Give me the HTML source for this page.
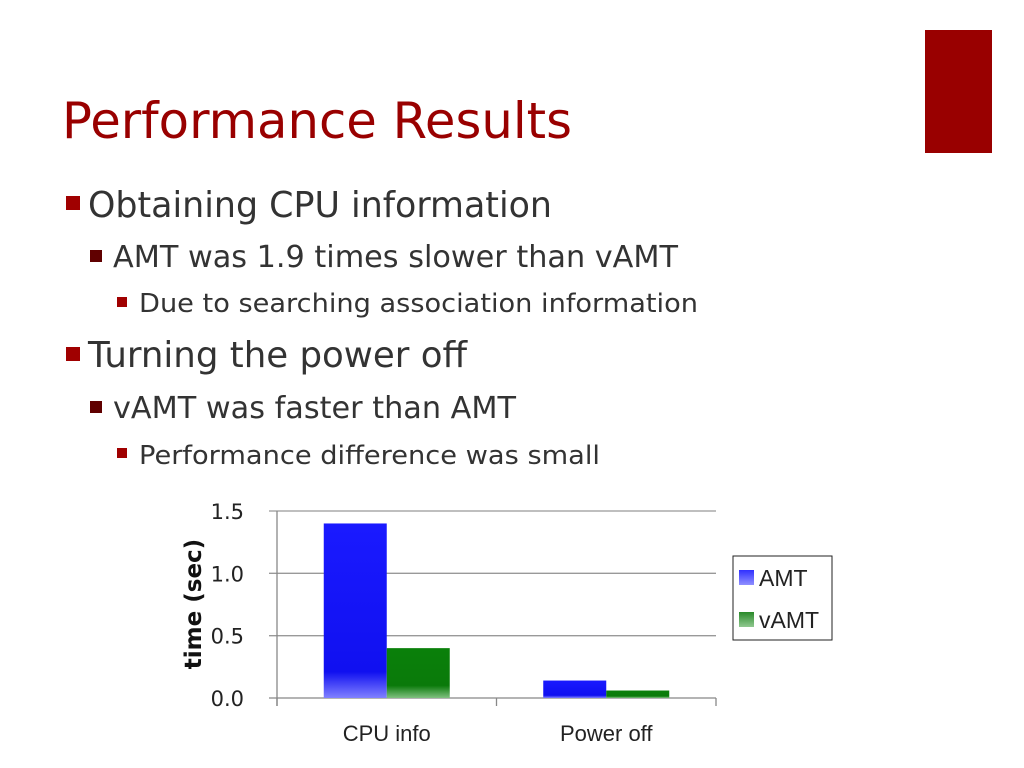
<!DOCTYPE html>
<html><head><meta charset="utf-8"><style>
body{margin:0;background:#fff;}
svg{display:block;font-family:"DejaVu Sans","Liberation Sans",sans-serif;}
</style></head><body>
<svg id="s" width="1024" height="768" viewBox="0 0 1024 768">
<defs>
<linearGradient id="gb" x1="0" y1="0" x2="0" y2="1"><stop offset="0" stop-color="#1a1aff"/><stop offset="0.85" stop-color="#1010f0"/><stop offset="1" stop-color="#8080ff"/></linearGradient>
<linearGradient id="gg" x1="0" y1="0" x2="0" y2="1"><stop offset="0" stop-color="#0a800a"/><stop offset="0.75" stop-color="#0a7a0a"/><stop offset="1" stop-color="#80c080"/></linearGradient>
<linearGradient id="gbl" x1="0" y1="0" x2="0" y2="1"><stop offset="0" stop-color="#3030ff"/><stop offset="1" stop-color="#9090ff"/></linearGradient>
<linearGradient id="ggl" x1="0" y1="0" x2="0" y2="1"><stop offset="0" stop-color="#2a8a2a"/><stop offset="1" stop-color="#90c890"/></linearGradient>
</defs>
<rect x="925" y="30" width="67" height="123" fill="#990000"/>
<text x="62" y="138" font-size="50" fill="#990000" textLength="510" lengthAdjust="spacingAndGlyphs">Performance Results</text>
<g fill="#333">
<rect x="66" y="196" width="14" height="14" fill="#a00000"/>
<text x="88" y="217" font-size="36" textLength="464" lengthAdjust="spacingAndGlyphs">Obtaining CPU information</text>
<rect x="90" y="250" width="12" height="12" fill="#600000"/>
<text x="113" y="267" font-size="30" textLength="565" lengthAdjust="spacingAndGlyphs">AMT was 1.9 times slower than vAMT</text>
<rect x="117" y="297" width="10" height="10" fill="#a00000"/>
<text x="139" y="312" font-size="26" textLength="559" lengthAdjust="spacingAndGlyphs">Due to searching association information</text>
<rect x="66" y="347" width="14" height="14" fill="#a00000"/>
<text x="88" y="367" font-size="36" textLength="379" lengthAdjust="spacingAndGlyphs">Turning the power off</text>
<rect x="90" y="401" width="12" height="12" fill="#600000"/>
<text x="113" y="418" font-size="30" textLength="403" lengthAdjust="spacingAndGlyphs">vAMT was faster than AMT</text>
<rect x="117" y="448" width="10" height="10" fill="#a00000"/>
<text x="139" y="464" font-size="26" textLength="461" lengthAdjust="spacingAndGlyphs">Performance difference was small</text>
</g>
<g id="chart"></g>
</svg>
<script>
const categories=["CPU info","Power off"];
const amtValues=[1.4,0.14];
const vamtValues=[0.40,0.06];
const yTicks=[0,0.5,1.0,1.5];
const yTickLabels=["0.0","0.5","1.0","1.5"];
const seriesNames=["AMT","vAMT"];
const NS="http://www.w3.org/2000/svg";
const g=document.getElementById('chart');
const X0=277,X1=716,Y0=698,Y1=511,YMAX=1.5;
const y=v=>Y0-(v/YMAX)*(Y0-Y1);
const catW=(X1-X0)/categories.length;
const barW=63;
function mk(t,a,txt){const e=document.createElementNS(NS,t);for(const k in a)e.setAttribute(k,a[k]);if(txt!=null)e.textContent=txt;g.appendChild(e);return e;}
yTicks.forEach((v,i)=>{
 const l=mk('line',{x1:X0-8,x2:X1,y1:y(v),y2:y(v),stroke:i==0?'#888':'#999','stroke-width':1.3});
 
 
 const t=mk('text',{x:X0-33,y:y(v)+8,'font-size':21,'text-anchor':'end',fill:'#222'},yTickLabels[i]);
 
 
});
const ax=mk('line',{x1:X0,x2:X0,y1:Y1,y2:Y0+8,stroke:'#888','stroke-width':1.3});


for(let i=0;i<=categories.length;i++){
 const tk=mk('line',{x1:X0+i*catW,x2:X0+i*catW,y1:Y0,y2:Y0+8,stroke:'#888','stroke-width':1.3});
 
 
}
categories.forEach((c,i)=>{
 const cx=X0+catW*(i+0.5);
 const b1=mk('rect',{x:cx-barW,y:y(amtValues[i]),width:barW,height:Y0-y(amtValues[i]),fill:'url(#gb)'});
 
 
 const b2=mk('rect',{x:cx,y:y(vamtValues[i]),width:barW,height:Y0-y(vamtValues[i]),fill:'url(#gg)'});
 
 
 const t=mk('text',{x:cx,y:741,'font-size':22,'text-anchor':'middle',fill:'#222','font-family':'Liberation Sans, sans-serif'},c);
 
 
});
const yt=mk('text',{x:0,y:0,'font-size':23,'font-weight':'bold','text-anchor':'middle',fill:'#111',transform:'translate(201,604) rotate(-90)'},'time (sec)');


const lb=mk('rect',{x:733,y:556,width:99,height:84,fill:'#fff',stroke:'#222','stroke-width':1});


seriesNames.forEach((n,i)=>{
 const sw=mk('rect',{x:739,y:570+i*42,width:15,height:15,fill:i?'url(#ggl)':'url(#gbl)'});
 
 
 const t=mk('text',{x:759,y:586+i*42,'font-size':23,fill:'#222','font-family':'Liberation Sans, sans-serif'},n);
 
 
});
</script>
</body></html>
